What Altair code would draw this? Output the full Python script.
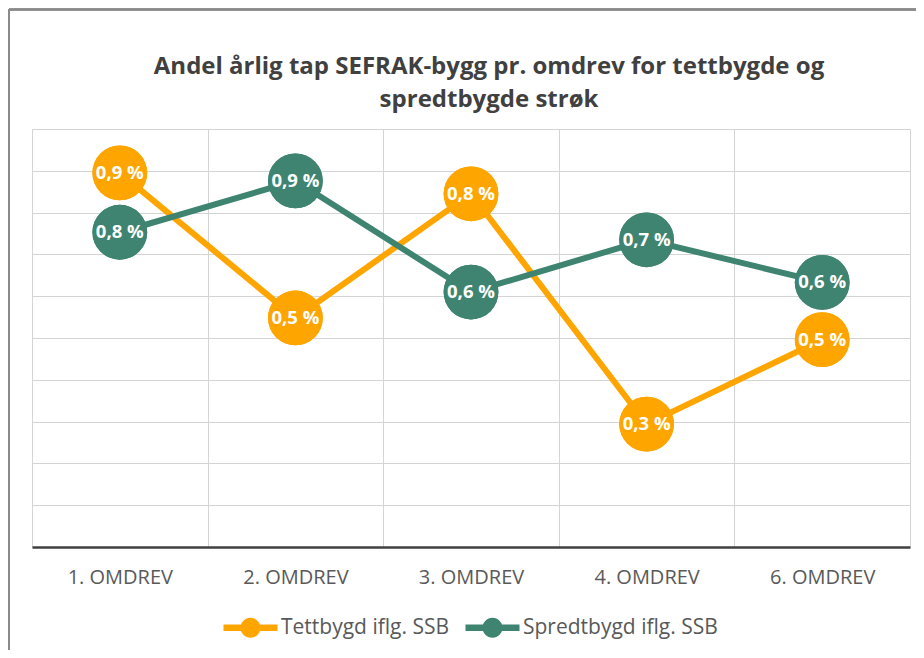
import altair as alt
import pandas as pd

categories = ["1. OMDREV", "2. OMDREV", "3. OMDREV", "4. OMDREV", "6. OMDREV"]
tettbygd = [0.895, 0.548, 0.845, 0.294, 0.496]
spredtbygd = [0.753, 0.876, 0.610, 0.735, 0.633]
series_names = ["Tettbygd iflg. SSB", "Spredtbygd iflg. SSB"]
series_colors = ["#FFA500", "#3E8471"]
grid_values = [0.0, 0.1, 0.2, 0.3, 0.4, 0.5, 0.6, 0.7, 0.8, 0.9, 1.0]

rows = []
for i, c in enumerate(categories):
    rows.append({"omdrev": c, "serie": series_names[0], "verdi": tettbygd[i], "ord": 0})
for i, c in enumerate(categories):
    rows.append({"omdrev": c, "serie": series_names[1], "verdi": spredtbygd[i], "ord": 1})
df = pd.DataFrame(rows)

FONT = "Open Sans"
LEG_PATH = ("M-2.7,-0.33 L2.7,-0.33 L2.7,0.33 L-2.7,0.33 Z "
            "M1,0 A1,1 0 1,1 -1,0 A1,1 0 1,1 1,0 Z")

x_enc = alt.X("omdrev:N", sort=categories, bandPosition=0.5,
              scale=alt.Scale(type="band", paddingInner=0, paddingOuter=0),
              axis=alt.Axis(title=None, tickBand="extent", ticks=False, tickSize=0,
                            labelFont=FONT, labelFontSize=20, labelColor="#595959",
                            labelBaseline="alphabetic", labelPadding=36, labelAngle=0,
                            domainColor="#404040", domainWidth=2.5,
                            grid=True, gridColor="#d4d4d4", gridWidth=1))
y_enc = alt.Y("verdi:Q", scale=alt.Scale(domain=[0, 1.0], nice=False, zero=True),
              axis=alt.Axis(title=None, labels=False, ticks=False, domain=False,
                            values=grid_values, grid=True, gridColor="#d4d4d4", gridWidth=1))
color_scale = alt.Scale(domain=series_names, range=series_colors)
legend = alt.Legend(title=None, orient="none", legendX=208, legendY=488,
                    direction="horizontal", symbolType=LEG_PATH,
                    symbolSize=400, symbolStrokeWidth=0, symbolOpacity=1,
                    labelOffset=20, columnPadding=15, padding=0, labelLimit=400,
                    labelFont=FONT, labelFontSize=21, labelColor="#595959")
color_leg = alt.Color("serie:N", sort=series_names, scale=color_scale, legend=legend)
color_noleg = alt.Color("serie:N", sort=series_names, scale=color_scale, legend=None)

base = alt.Chart(df)

# first colour layer carries the legend (filled circle symbols)
dots_under = base.mark_circle(size=3000, opacity=1).encode(x=x_enc, y=y_enc, color=color_leg)
lines = base.mark_line(strokeWidth=6).encode(x=x_enc, y=y_enc, color=color_noleg,
                                              order="ord:Q")
dots = base.mark_circle(size=3000, opacity=1).encode(x=x_enc, y=y_enc, color=color_noleg,
                                                     order="ord:Q")
labels = base.transform_calculate(
    lbl="replace(format(datum.verdi, '.1f'), '.', ',') + ' %'"
).mark_text(font=FONT, fontSize=18.5, fontWeight="bold", color="white").encode(
    x=x_enc, y=y_enc, text="lbl:N")

frame_left = alt.Chart(df).mark_rule(color="#8a8a8a", strokeWidth=1.5).encode(
    x=alt.value(-23), y=alt.value(-119.5), y2=alt.value(530))
frame_top = alt.Chart(df).mark_rule(color="#8a8a8a", strokeWidth=1.5).encode(
    x=alt.value(-23), x2=alt.value(900), y=alt.value(-119.5))

chart = alt.layer(frame_left, frame_top, dots_under, lines, dots, labels).properties(
    width=878, height=418,
    autosize=alt.AutoSizeParams(type="none"),
    padding={"left": 24, "top": 121, "right": 6, "bottom": 103},
    title=alt.TitleParams(
        text=["Andel årlig tap SEFRAK-bygg pr. omdrev for tettbygde og",
              "spredtbygde strøk"],
        font=FONT, fontSize=24, fontWeight="bold", color="#404040",
        anchor="middle", frame="group", dx=18, baseline="bottom", offset=-127,
        lineHeight=33),
).configure_view(stroke=None)

chart.save("out.html", embed_options={"renderer": "svg", "actions": False})
